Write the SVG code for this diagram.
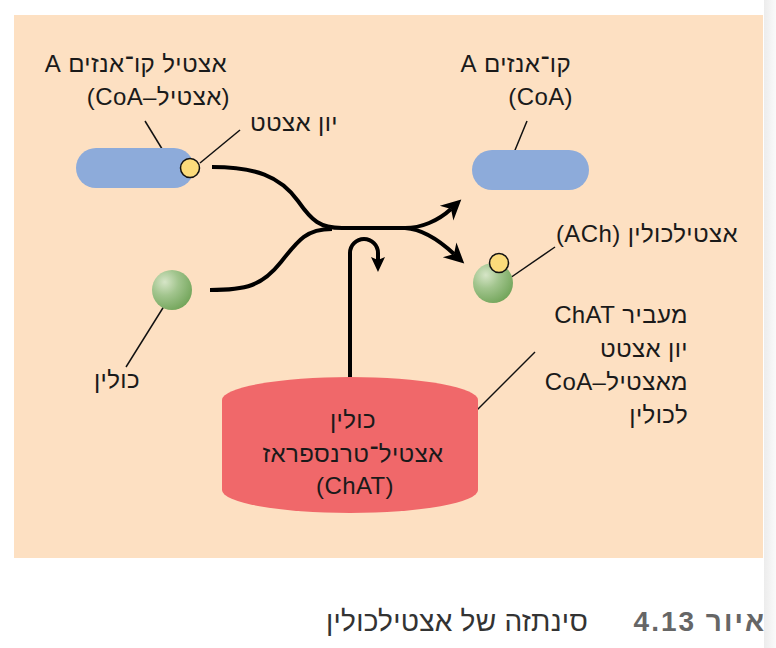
<svg xmlns="http://www.w3.org/2000/svg" width="776" height="648" viewBox="0 0 776 648">
<style>
.lbl{font-family:"Liberation Sans","DejaVu Sans",sans-serif;font-size:24px;letter-spacing:0.4px;fill:#1a1a1a}
.rtl{direction:rtl;text-anchor:start}
.mid{text-anchor:middle;direction:rtl}
.lead{stroke:#111;stroke-width:1.5;fill:none}
.flow{stroke:#000;stroke-width:4;fill:none;stroke-linecap:butt}
.ion{fill:#FBDB7B;stroke:#111;stroke-width:1.5}
.coa{fill:#8DABDA}
.cap{font-family:"Liberation Sans","DejaVu Sans",sans-serif;font-size:28px;direction:rtl;text-anchor:start}
</style>
<defs>
<radialGradient id="green" cx="0.32" cy="0.3" r="0.75">
<stop offset="0" stop-color="#D6E5C7"/>
<stop offset="0.45" stop-color="#A2C58E"/>
<stop offset="1" stop-color="#74A65C"/>
</radialGradient>
<linearGradient id="edge" x1="0" y1="0" x2="1" y2="0">
<stop offset="0" stop-color="#ececec"/>
<stop offset="1" stop-color="#fafafa"/>
</linearGradient>
<marker id="ah" markerUnits="userSpaceOnUse" markerWidth="24" markerHeight="24" refX="6" refY="12" orient="auto" viewBox="0 0 24 24">
<path d="M20,12 L0,2 L6,12 L0,22 Z" fill="#000"/>
</marker>
<marker id="ahs" markerUnits="userSpaceOnUse" markerWidth="20" markerHeight="20" refX="3" refY="10" orient="auto" viewBox="0 0 20 20">
<path d="M15,10 L0,3 L3,10 L0,17 Z" fill="#000"/>
</marker>
</defs>
<rect x="0" y="0" width="776" height="648" fill="#fff"/>
<rect x="764" y="0" width="12" height="648" fill="url(#edge)"/>
<rect id="panel" x="14" y="15" width="749" height="543" fill="#FDE0C2"/>

<g id="connectors">
<path class="flow" d="M212,167 C255,167 280,176 298,201 C312,221 320,228 342,228 L408,228"/>
<path class="flow" d="M210,290 C246,290 262,286 281,262 C299,239 307,229 332,229"/>
<path class="flow" d="M405,228 C421,228 438,221 451,209" marker-end="url(#ah)"/>
<path class="flow" d="M405,228 C422,229 440,241 454,254" marker-end="url(#ah)"/>
<path class="flow" d="M350,378 L350,253 A14,14 0 0 1 378,253 L378,260" marker-end="url(#ahs)"/>
<line class="lead" x1="145" y1="121" x2="167" y2="157"/>
<line class="lead" x1="200" y1="163" x2="240" y2="130"/>
<line class="lead" x1="527" y1="121" x2="513" y2="155"/>
<line class="lead" x1="510" y1="278" x2="555" y2="247"/>
<line class="lead" x1="166" y1="303" x2="126" y2="367"/>
<line class="lead" x1="468" y1="419" x2="535" y2="352"/>
</g>

<g id="acetylcoa">
<rect class="coa" x="76" y="148" width="118" height="40" rx="20"/>
<circle class="ion" cx="190" cy="168" r="9.5"/>
<text class="lbl rtl" x="227" y="72">אצטיל קו־אנזים A</text>
<text class="lbl rtl" x="230" y="105">(אצטיל–CoA)</text>
</g>
<g id="acetate-label">
<text class="lbl rtl" x="338" y="131">יון אצטט</text>
</g>

<g id="coa">
<rect class="coa" x="472" y="150" width="117" height="40" rx="20"/>
<text class="lbl rtl" x="571" y="72">קו־אנזים A</text>
<text class="lbl rtl" x="573" y="105">(CoA)</text>
</g>

<g id="ach">
<circle cx="493" cy="283" r="20" fill="url(#green)"/>
<circle class="ion" cx="499" cy="263" r="9.5"/>
<text class="lbl rtl" x="738" y="242">אצטילכולין (ACh)</text>
</g>

<g id="choline">
<circle cx="172" cy="290" r="20" fill="url(#green)"/>
<text class="lbl mid" x="117" y="388">כולין</text>
</g>

<g id="chat">
<path d="M222,400 A128,23 0 0 1 478,400 L478,490 A128,23 0 0 1 222,490 Z" fill="#F0686A"/>
<text class="lbl mid" x="353" y="428">כולין</text>
<text class="lbl mid" x="353" y="462">אצטיל־טרנספראז</text>
<text class="lbl mid" x="355" y="494">(ChAT)</text>
</g>

<g id="chat-note">
<text class="lbl rtl" x="688" y="323">מעביר ChAT</text>
<text class="lbl rtl" x="688" y="357">יון אצטט</text>
<text class="lbl rtl" x="688" y="390">מאצטיל–CoA</text>
<text class="lbl rtl" x="688" y="423">לכולין</text>
</g>

<g id="caption">
<text class="cap" x="766" y="631" fill="#666" font-weight="bold" letter-spacing="2">איור 4.13</text>
<text class="cap" x="588" y="631" fill="#333" letter-spacing="0.25">סינתזה של אצטילכולין</text>
</g>
</svg>
